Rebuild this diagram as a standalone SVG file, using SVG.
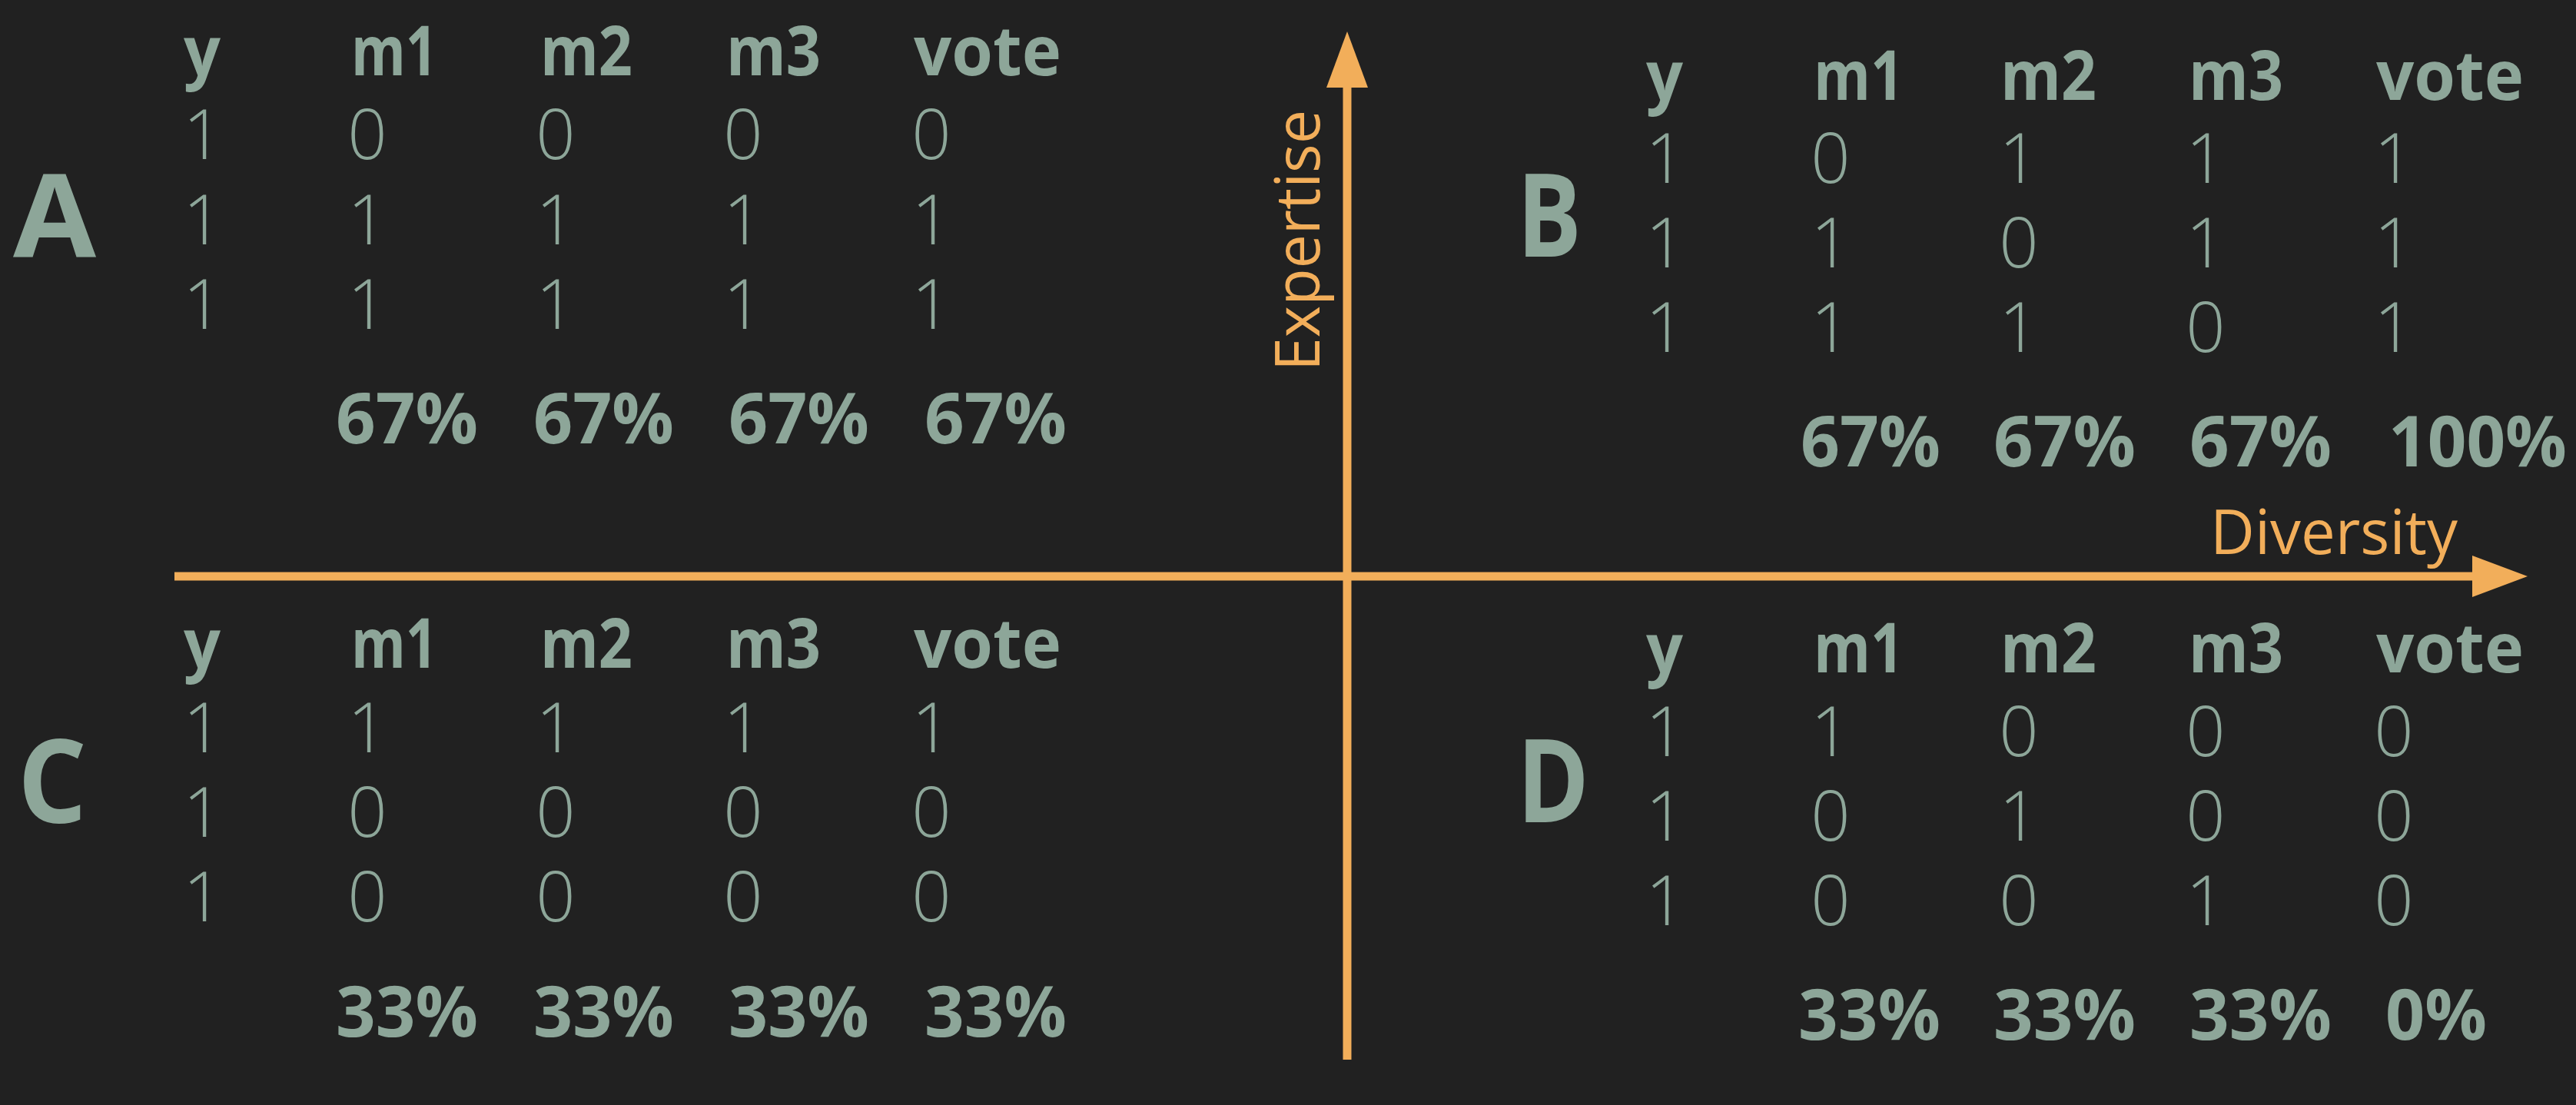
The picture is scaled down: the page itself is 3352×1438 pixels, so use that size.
<svg xmlns="http://www.w3.org/2000/svg" width="3352" height="1438" viewBox="0 0 3352 1438">
<style>
.bg{fill:#212121}
.ax{stroke:#f2ae5a;stroke-width:11;fill:none}
.ah{fill:#f2ae5a}
.axl{font-family:"Open Sans","Noto Sans",sans-serif;font-size:80px;fill:#f2ae5a}
.q{font-family:"Open Sans","Noto Sans",sans-serif;font-weight:bold;font-size:150px;fill:#8da699}
.h{font-family:"Open Sans","Noto Sans",sans-serif;font-weight:bold;font-size:90px;fill:#8da699}
.d{font-family:"Open Sans","Noto Sans",sans-serif;font-weight:300;font-size:90px;fill:#8da699;text-anchor:middle}
.p{font-family:"Open Sans","Noto Sans",sans-serif;font-weight:bold;font-size:91px;fill:#8da699}
</style>
<rect class="bg" x="0" y="0" width="3352" height="1438"/>
<g id="connectors">
<line class="ax" x1="1753" y1="1379" x2="1753" y2="110"/>
<polygon class="ah" points="1753,41 1726,114 1780,114"/>
<line class="ax" x1="227" y1="750" x2="3220" y2="750"/>
<polygon class="ah" points="3289,750 3217,723 3217,777"/>
</g>
<g id="axis-expertise">
<text class="axl" transform="translate(1717,483) rotate(-90)" textLength="340" lengthAdjust="spacingAndGlyphs">Expertise</text>
</g>
<g id="axis-diversity">
<text class="axl" x="2876" y="721" textLength="322" lengthAdjust="spacingAndGlyphs">Diversity</text>
</g>
<g id="quadrant-A">
<text class="q" x="17" y="335" textLength="108" lengthAdjust="spacingAndGlyphs">A</text>
<text class="h" x="239" y="98" textLength="48" lengthAdjust="spacingAndGlyphs">y</text>
<text class="h" x="457" y="98" textLength="112" lengthAdjust="spacingAndGlyphs">m1</text>
<text class="h" x="703" y="98" textLength="120" lengthAdjust="spacingAndGlyphs">m2</text>
<text class="h" x="945" y="98" textLength="123" lengthAdjust="spacingAndGlyphs">m3</text>
<text class="h" x="1189" y="98" textLength="192" lengthAdjust="spacingAndGlyphs">vote</text>
<text class="d" x="264" y="207">1</text><text class="d" x="478" y="207">0</text><text class="d" x="723" y="207">0</text><text class="d" x="967" y="207">0</text><text class="d" x="1212" y="207">0</text>
<text class="d" x="264" y="318">1</text><text class="d" x="478" y="318">1</text><text class="d" x="723" y="318">1</text><text class="d" x="967" y="318">1</text><text class="d" x="1212" y="318">1</text>
<text class="d" x="264" y="428">1</text><text class="d" x="478" y="428">1</text><text class="d" x="723" y="428">1</text><text class="d" x="967" y="428">1</text><text class="d" x="1212" y="428">1</text>
<text class="p" x="437" y="577" textLength="185" lengthAdjust="spacingAndGlyphs">67%</text>
<text class="p" x="694" y="577" textLength="183" lengthAdjust="spacingAndGlyphs">67%</text>
<text class="p" x="948" y="577" textLength="183" lengthAdjust="spacingAndGlyphs">67%</text>
<text class="p" x="1203" y="577" textLength="185" lengthAdjust="spacingAndGlyphs">67%</text>
</g>
<g id="quadrant-B">
<text class="q" x="1974" y="334" textLength="84" lengthAdjust="spacingAndGlyphs">B</text>
<text class="h" x="2142" y="130" textLength="48" lengthAdjust="spacingAndGlyphs">y</text>
<text class="h" x="2360" y="130" textLength="117" lengthAdjust="spacingAndGlyphs">m1</text>
<text class="h" x="2603" y="130" textLength="125" lengthAdjust="spacingAndGlyphs">m2</text>
<text class="h" x="2848" y="130" textLength="123" lengthAdjust="spacingAndGlyphs">m3</text>
<text class="h" x="3092" y="130" textLength="192" lengthAdjust="spacingAndGlyphs">vote</text>
<text class="d" x="2167" y="238">1</text><text class="d" x="2382" y="238">0</text><text class="d" x="2627" y="238">1</text><text class="d" x="2870" y="238">1</text><text class="d" x="3115" y="238">1</text>
<text class="d" x="2167" y="348">1</text><text class="d" x="2382" y="348">1</text><text class="d" x="2627" y="348">0</text><text class="d" x="2870" y="348">1</text><text class="d" x="3115" y="348">1</text>
<text class="d" x="2167" y="458">1</text><text class="d" x="2382" y="458">1</text><text class="d" x="2627" y="458">1</text><text class="d" x="2870" y="458">0</text><text class="d" x="3115" y="458">1</text>
<text class="p" x="2343" y="607" textLength="182" lengthAdjust="spacingAndGlyphs">67%</text>
<text class="p" x="2594" y="607" textLength="185" lengthAdjust="spacingAndGlyphs">67%</text>
<text class="p" x="2849" y="607" textLength="185" lengthAdjust="spacingAndGlyphs">67%</text>
<text class="p" x="3108" y="607" textLength="232" lengthAdjust="spacingAndGlyphs">100%</text>
</g>
<g id="quadrant-C">
<text class="q" x="23" y="1071" textLength="90" lengthAdjust="spacingAndGlyphs">C</text>
<text class="h" x="239" y="869" textLength="48" lengthAdjust="spacingAndGlyphs">y</text>
<text class="h" x="457" y="869" textLength="112" lengthAdjust="spacingAndGlyphs">m1</text>
<text class="h" x="703" y="869" textLength="120" lengthAdjust="spacingAndGlyphs">m2</text>
<text class="h" x="945" y="869" textLength="123" lengthAdjust="spacingAndGlyphs">m3</text>
<text class="h" x="1189" y="869" textLength="192" lengthAdjust="spacingAndGlyphs">vote</text>
<text class="d" x="264" y="979">1</text><text class="d" x="478" y="979">1</text><text class="d" x="723" y="979">1</text><text class="d" x="967" y="979">1</text><text class="d" x="1212" y="979">1</text>
<text class="d" x="264" y="1089">1</text><text class="d" x="478" y="1089">0</text><text class="d" x="723" y="1089">0</text><text class="d" x="967" y="1089">0</text><text class="d" x="1212" y="1089">0</text>
<text class="d" x="264" y="1199">1</text><text class="d" x="478" y="1199">0</text><text class="d" x="723" y="1199">0</text><text class="d" x="967" y="1199">0</text><text class="d" x="1212" y="1199">0</text>
<text class="p" x="437" y="1349" textLength="185" lengthAdjust="spacingAndGlyphs">33%</text>
<text class="p" x="694" y="1349" textLength="183" lengthAdjust="spacingAndGlyphs">33%</text>
<text class="p" x="948" y="1349" textLength="183" lengthAdjust="spacingAndGlyphs">33%</text>
<text class="p" x="1203" y="1349" textLength="185" lengthAdjust="spacingAndGlyphs">33%</text>
</g>
<g id="quadrant-D">
<text class="q" x="1974" y="1070" textLength="94" lengthAdjust="spacingAndGlyphs">D</text>
<text class="h" x="2142" y="875" textLength="48" lengthAdjust="spacingAndGlyphs">y</text>
<text class="h" x="2360" y="875" textLength="117" lengthAdjust="spacingAndGlyphs">m1</text>
<text class="h" x="2603" y="875" textLength="125" lengthAdjust="spacingAndGlyphs">m2</text>
<text class="h" x="2848" y="875" textLength="123" lengthAdjust="spacingAndGlyphs">m3</text>
<text class="h" x="3092" y="875" textLength="192" lengthAdjust="spacingAndGlyphs">vote</text>
<text class="d" x="2167" y="984">1</text><text class="d" x="2382" y="984">1</text><text class="d" x="2627" y="984">0</text><text class="d" x="2870" y="984">0</text><text class="d" x="3115" y="984">0</text>
<text class="d" x="2167" y="1094">1</text><text class="d" x="2382" y="1094">0</text><text class="d" x="2627" y="1094">1</text><text class="d" x="2870" y="1094">0</text><text class="d" x="3115" y="1094">0</text>
<text class="d" x="2167" y="1204">1</text><text class="d" x="2382" y="1204">0</text><text class="d" x="2627" y="1204">0</text><text class="d" x="2870" y="1204">1</text><text class="d" x="3115" y="1204">0</text>
<text class="p" x="2340" y="1353" textLength="185" lengthAdjust="spacingAndGlyphs">33%</text>
<text class="p" x="2594" y="1353" textLength="185" lengthAdjust="spacingAndGlyphs">33%</text>
<text class="p" x="2849" y="1353" textLength="185" lengthAdjust="spacingAndGlyphs">33%</text>
<text class="p" x="3104" y="1353" textLength="132" lengthAdjust="spacingAndGlyphs">0%</text>
</g>
</svg>
